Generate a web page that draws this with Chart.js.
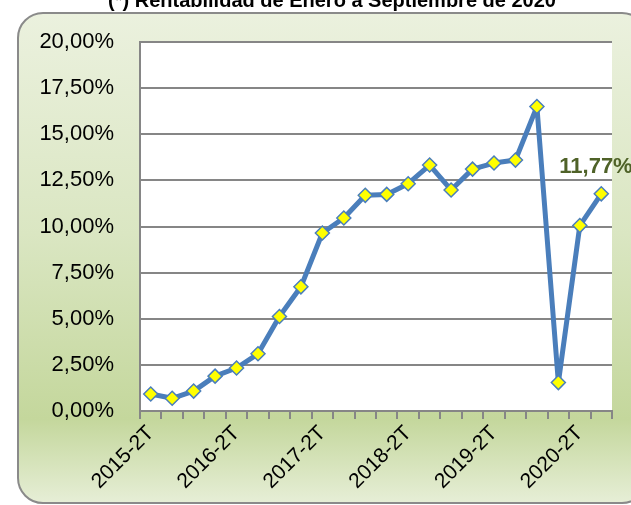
<!DOCTYPE html>
<html>
<head>
<meta charset="utf-8">
<title>Rentabilidad</title>
<script src="https://cdn.jsdelivr.net/npm/chart.js@4.4.0/dist/chart.umd.min.js"></script>
<style>
  html, body { margin: 0; padding: 0; background: #fff; overflow: hidden; }
  #wrap { position: relative; width: 631px; height: 505px; overflow: hidden; }
  #box {
    position: absolute; left: 17px; top: 12px; width: 631px; height: 492px;
    box-sizing: border-box; border: 2px solid #8a8a8a; border-radius: 26px;
    background: linear-gradient(to bottom, #ebf1de 0%, #dae6c2 45%, #c4d79c 83%, #e6eed6 100%);
  }
  #c { position: absolute; left: 0; top: 0; }
</style>
</head>
<body>
<div id="wrap">
  <div id="box"></div>
  <canvas id="c" width="631" height="505"></canvas>
</div>
<script>
const titleText = "(*) Rentabilidad de Enero a Septiembre de 2020";
const quarters = [
  "2015-2T", "2015-3T", "2015-4T",
  "2016-1T", "2016-2T", "2016-3T", "2016-4T",
  "2017-1T", "2017-2T", "2017-3T", "2017-4T",
  "2018-1T", "2018-2T", "2018-3T", "2018-4T",
  "2019-1T", "2019-2T", "2019-3T", "2019-4T",
  "2020-1T", "2020-2T", "2020-3T"
];
const rentabilidad = [
  0.92, 0.69, 1.08,
  1.89, 2.33, 3.10, 5.12,
  6.73, 9.65, 10.46, 11.69,
  11.74, 12.32, 13.33, 11.98,
  13.11, 13.44, 13.60, 16.50,
  1.54, 10.05, 11.77
];
const lastLabel = "11,77%";

const fmtPct = v => v.toFixed(2).replace('.', ',') + '%';
const fontFamily = '"Liberation Sans", Arial, sans-serif';

// white plot area + title + last value label
const decor = {
  id: 'decor',
  beforeDraw(chart) {
    const a = chart.chartArea, ctx = chart.ctx;
    ctx.save();
    ctx.fillStyle = '#ffffff';
    ctx.fillRect(a.left, a.top, a.right - a.left, a.bottom - a.top);
    ctx.fillStyle = '#000';
    ctx.font = 'bold 20px ' + fontFamily;
    ctx.textAlign = 'center';
    ctx.textBaseline = 'alphabetic';
    ctx.fillText(titleText, 332, 7);
    ctx.restore();
  },
  afterDatasetsDraw(chart) {
    const pts = chart.getDatasetMeta(0).data;
    const p = pts[pts.length - 1];
    const ctx = chart.ctx;
    ctx.save();
    ctx.fillStyle = '#4F6228';
    ctx.font = 'bold 22px ' + fontFamily;
    ctx.textAlign = 'left';
    ctx.textBaseline = 'alphabetic';
    ctx.fillText(lastLabel, p.x - 42, p.y - 21);
    ctx.restore();
  }
};

new Chart(document.getElementById('c'), {
  type: 'line',
  data: {
    labels: quarters,
    datasets: [{
      data: rentabilidad,
      borderColor: '#4A7EBB',
      borderWidth: 5,
      borderJoinStyle: 'round',
      borderCapStyle: 'round',
      tension: 0,
      pointStyle: 'rectRot',
      pointRadius: 7,
      pointHoverRadius: 7,
      pointBackgroundColor: '#FFFF00',
      pointBorderColor: '#4A7EBB',
      pointBorderWidth: 1.5,
      clip: false
    }]
  },
  options: {
    responsive: false,
    animation: false,
    events: [],
    layout: { padding: { top: 42, right: 19, left: 0, bottom: 0 } },
    plugins: { legend: { display: false }, tooltip: { enabled: false } },
    scales: {
      x: {
        offset: true,
        grid: { offset: true, drawOnChartArea: false, drawTicks: true, tickLength: 8, color: '#868686', lineWidth: 2 },
        border: { display: true, color: '#868686', width: 2 },
        ticks: {
          autoSkip: false, minRotation: 45, maxRotation: 45, padding: 2,
          color: '#000', font: { family: fontFamily, size: 21 },
          callback: function (v, i) { return i % 4 === 0 ? this.getLabelForValue(v) : ''; }
        },
        afterFit(s) { s.height = 94; }
      },
      y: {
        min: 0, max: 20,
        grid: { color: '#868686', lineWidth: 2, drawTicks: false },
        border: { display: true, color: '#868686', width: 2 },
        ticks: {
          stepSize: 2.5, padding: 26, color: '#000',
          font: { family: fontFamily, size: 22 },
          callback: v => fmtPct(v)
        },
        afterFit(s) { s.width = 140; }
      }
    }
  },
  plugins: [decor]
});
</script>
</body>
</html>
